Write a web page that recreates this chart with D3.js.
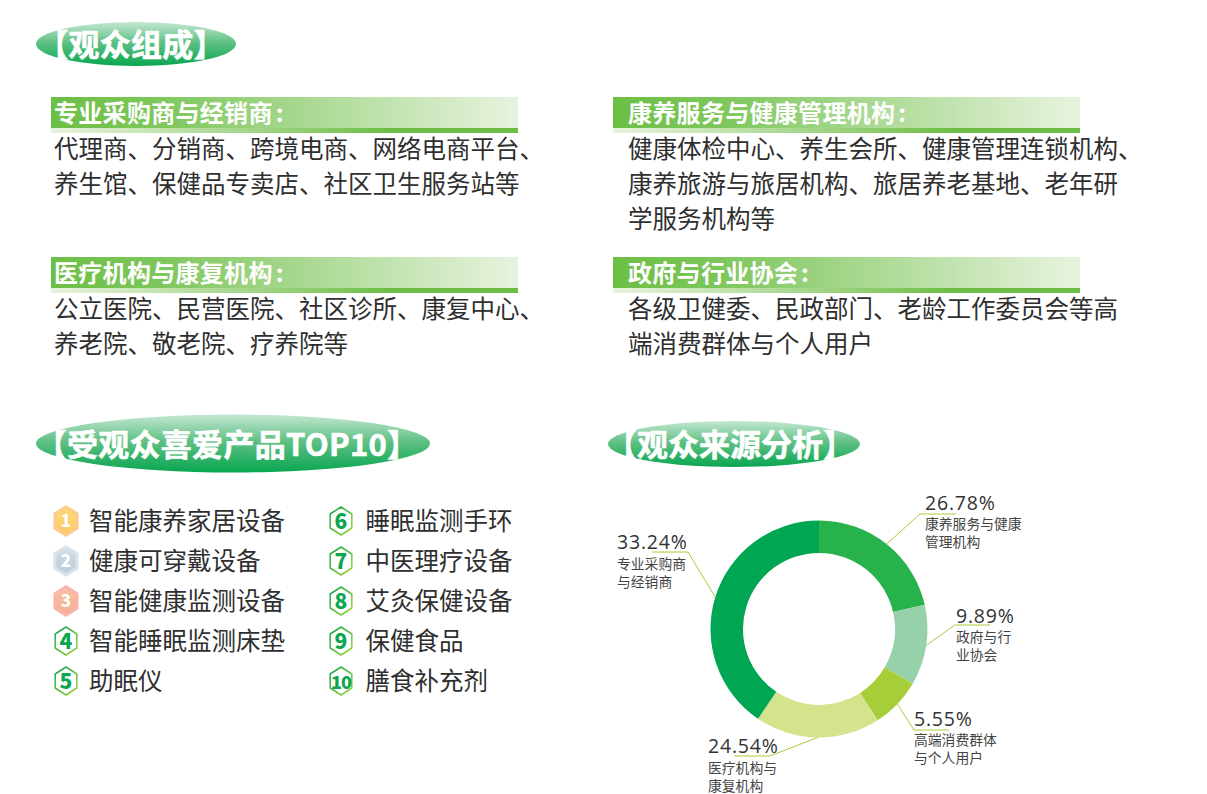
<!DOCTYPE html>
<html>
<head>
<meta charset="utf-8">
<script src="https://cdn.jsdelivr.net/npm/d3@7"></script>
<style>
    html, body { margin: 0; padding: 0; background: #fff; }
    svg { display: block; }
    text { font-family: "Noto Sans CJK SC", "Noto Sans", sans-serif; }
</style>
</head>
<body>
<div id="chart"></div>
<script>
// Audience group sections
var groupTitles = ["专业采购商与经销商", "康养服务与健康管理机构", "医疗机构与康复机构", "政府与行业协会"];
var groupLines = [
    ["代理商、分销商、跨境电商、网络电商平台、", "养生馆、保健品专卖店、社区卫生服务站等"],
    ["健康体检中心、养生会所、健康管理连锁机构、", "康养旅游与旅居机构、旅居养老基地、老年研", "学服务机构等"],
    ["公立医院、民营医院、社区诊所、康复中心、", "养老院、敬老院、疗养院等"],
    ["各级卫健委、民政部门、老龄工作委员会等高", "端消费群体与个人用户"]
];

// Top 10 products
var productNames = ["智能康养家居设备", "健康可穿戴设备", "智能健康监测设备", "智能睡眠监测床垫", "助眠仪",
                    "睡眠监测手环", "中医理疗设备", "艾灸保健设备", "保健食品", "膳食补充剂"];

// Audience source donut. The printed labels and the drawn arcs disagree in the
// reference, so the arc sizes are read from the picture separately.
var sourcePercents = ["26.78%", "9.89%", "5.55%", "24.54%", "33.24%"];
var sourceArcShares = [21.4, 12.0, 7.5, 18.6, 40.5];
var sourceNames = [["康养服务与健康", "管理机构"], ["政府与行", "业协会"], ["高端消费群体", "与个人用户"], ["医疗机构与", "康复机构"], ["专业采购商", "与经销商"]];
var sourceColors = ["#28b24b", "#97d1a9", "#a6ce39", "#d3e48c", "#00a651"];

var svg = d3.select("#chart").append("svg").attr("width", 1207).attr("height", 794);
var defs = svg.append("defs");

function addGradient(id, x2, y2, stops) {
    var g = defs.append("linearGradient").attr("id", id)
        .attr("x1", 0).attr("y1", 0).attr("x2", x2).attr("y2", y2);
    stops.forEach(function(s) {
        g.append("stop").attr("offset", s[0]).attr("stop-color", s[1]);
    });
}
addGradient("pillFill", 0, 1, [[0, "#c4e8d2"], [0.45, "#62c186"], [1, "#08a650"]]);
addGradient("barFill", 1, 0, [[0, "#6cbf45"], [0.22, "#7cc65a"], [1, "#e8f3df"]]);
addGradient("lineFill", 1, 0, [[0, "#e8f3df"], [0.55, "#8fcc6e"], [0.72, "#6cbf45"], [1, "#6cbf45"]]);
addGradient("hexStroke", 1, 1, [[0, "#0aa650"], [1, "#a6d13a"]]);
addGradient("medal1", 0, 1, [[0, "#fbdc78"], [1, "#fbc765"]]);
addGradient("medal2", 0, 1, [[0, "#d3dde5"], [1, "#bccbd8"]]);
addGradient("medal3", 0, 1, [[0, "#f8c3a2"], [1, "#f5ac90"]]);

// Green pill section titles
var pills = [
    { text: "【观众组成】", cx: 136, cy: 44, rx: 100, ry: 22, size: 31, spacing: 0.2, dx: -5 },
    { text: "【受观众喜爱产品TOP10】", cx: 233, cy: 443.5, rx: 197, ry: 29, size: 31, spacing: 0.3, dx: -6 },
    { text: "【观众来源分析】", cx: 734, cy: 444, rx: 126, ry: 23, size: 31, spacing: 0, dx: -4 }
];
var pill = svg.selectAll(".pill").data(pills).enter().append("g").attr("class", "pill");
pill.append("ellipse")
    .attr("cx", function(d) { return d.cx; })
    .attr("cy", function(d) { return d.cy; })
    .attr("rx", function(d) { return d.rx; })
    .attr("ry", function(d) { return d.ry; })
    .attr("fill", "url(#pillFill)");
pill.append("text")
    .attr("x", function(d) { return d.cx + d.dx; })
    .attr("y", function(d) { return d.cy + 12; })
    .attr("text-anchor", "middle")
    .attr("font-size", function(d) { return d.size; })
    .attr("letter-spacing", function(d) { return d.spacing; })
    .attr("font-weight", 700)
    .attr("fill", "#fff")
    .attr("stroke", "#fff")
    .attr("stroke-width", 0.6)
    .text(function(d) { return d.text; });

// Section bars with their descriptions
var columnX = d3.scaleOrdinal().domain([0, 1]).range([51, 613]);
var textX = d3.scaleOrdinal().domain([0, 1]).range([54, 628]);
var rowY = d3.scaleOrdinal().domain([0, 1]).range([97, 257]);

var group = svg.selectAll(".group").data(groupTitles).enter().append("g").attr("class", "group");
group.append("rect")
    .attr("x", function(d, i) { return columnX(i % 2); })
    .attr("y", function(d, i) { return rowY(Math.floor(i / 2)); })
    .attr("width", 467).attr("height", 31)
    .attr("fill", "url(#barFill)");
group.append("rect")
    .attr("x", function(d, i) { return columnX(i % 2); })
    .attr("y", function(d, i) { return rowY(Math.floor(i / 2)) + 31; })
    .attr("width", 467).attr("height", 5)
    .attr("fill", "url(#lineFill)");
var groupHead = group.append("text")
    .attr("x", function(d, i) { return textX(i % 2); })
    .attr("y", function(d, i) { return rowY(Math.floor(i / 2)) + 24.5; })
    .attr("font-size", 24)
    .attr("letter-spacing", 0.3)
    .attr("font-weight", 700)
    .attr("fill", "#fff");
groupHead.append("tspan").text(function(d) { return d; });
groupHead.append("tspan").attr("dx", 3).text(":");
group.each(function(d, i) {
    d3.select(this).selectAll(".line").data(groupLines[i]).enter().append("text")
        .attr("class", "line")
        .attr("x", textX(i % 2))
        .attr("y", function(l, j) { return rowY(Math.floor(i / 2)) + 60.5 + j * 35; })
        .attr("font-size", 24.5)
        .attr("fill", "#2f2f2f")
        .text(function(l) { return l; });
});

// Top 10 list, five rows in two columns
var listY = d3.scaleLinear().domain([0, 4]).range([521, 681]);
var iconX = d3.scaleOrdinal().domain([0, 1]).range([66, 341]);
var nameX = d3.scaleOrdinal().domain([0, 1]).range([89, 365.5]);
var medals = [
    { fill: "url(#medal1)", stroke: "#fbcb8c" },
    { fill: "url(#medal2)", stroke: "#dbe3ea" },
    { fill: "url(#medal3)", stroke: "#f9b4ac" }
];
var hexPath = d3.range(6).map(function(k) {
    var a = Math.PI / 3 * k;
    return [12.5 * Math.sin(a), -14 * Math.cos(a)];
});
var product = svg.selectAll(".product").data(productNames).enter().append("g")
    .attr("class", "product")
    .attr("transform", function(d, i) {
        return "translate(" + iconX(Math.floor(i / 5)) + "," + listY(i % 5) + ")";
    });
product.append("path")
    .attr("d", "M" + hexPath.join("L") + "Z")
    .attr("transform", function(d, i) { return i < 3 ? "scale(1.02)" : null; })
    .attr("fill", function(d, i) { return i < 3 ? medals[i].fill : "#fff"; })
    .attr("stroke", function(d, i) { return i < 3 ? medals[i].stroke : "url(#hexStroke)"; })
    .attr("stroke-width", function(d, i) { return i < 3 ? 3 : 1.5; })
    .attr("stroke-linejoin", "round");
product.append("text")
    .attr("text-anchor", "middle")
    .attr("y", function(d, i) { return i < 3 ? 6 : 7.5; })
    .attr("font-size", function(d, i) { return i === 9 ? 18 : (i < 3 ? 17 : 21); })
    .attr("letter-spacing", function(d, i) { return i === 9 ? -1 : 0; })
    .attr("font-weight", 900)
    .attr("fill", function(d, i) { return i < 3 ? "#fff" : "#0aa650"; })
    .text(function(d, i) { return i + 1; });
product.append("text")
    .attr("x", function(d, i) { return nameX(Math.floor(i / 5)) - iconX(Math.floor(i / 5)); })
    .attr("y", 8.5)
    .attr("font-size", 24.5)
    .attr("fill", "#2f2f2f")
    .text(function(d) { return d; });

// Donut
var cx = 819, cy = 629, outer = 108.5, inner = 76;
var pie = d3.pie().sort(null);
var arc = d3.arc().innerRadius(inner).outerRadius(outer);
var slices = pie(sourceArcShares);
var donut = svg.append("g").attr("transform", "translate(" + cx + "," + cy + ")");
donut.selectAll("path").data(slices).enter().append("path")
    .attr("d", arc)
    .attr("fill", function(d, i) { return sourceColors[i]; });

// Label placement around the ring: elbow, far end of the underline, text origin
var labelSpots = [
    { elbow: [920, 514], end: [956, 514], textX: 925, textY: 510, nameY: 529 },
    { elbow: [955, 625], end: [990, 625], textX: 956, textY: 623, nameY: 642 },
    { elbow: [914, 730], end: [949, 730], textX: 914, textY: 726, nameY: 745 },
    { elbow: [770, 756], end: [734, 756], textX: 708, textY: 753, nameY: 773 },
    { elbow: [688, 552], end: [652, 552], textX: 617, textY: 549, nameY: 569 }
];
var leader = d3.line();
svg.selectAll(".leader").data(slices).enter().append("path")
    .attr("class", "leader")
    .attr("fill", "none")
    .attr("stroke", "#a6ce39")
    .attr("stroke-width", 1)
    .attr("d", function(d, i) {
        var mid = (d.startAngle + d.endAngle) / 2;
        var s = labelSpots[i];
        return leader([[cx + outer * Math.sin(mid), cy - outer * Math.cos(mid)], s.elbow, s.end]);
    });
svg.selectAll(".pct").data(sourcePercents).enter().append("text")
    .attr("class", "pct")
    .attr("x", function(d, i) { return labelSpots[i].textX; })
    .attr("y", function(d, i) { return labelSpots[i].textY; })
    .attr("font-size", 19.5)
    .attr("letter-spacing", 0.8)
    .attr("fill", "#333")
    .style("font-family", "'Open Sans', sans-serif")
    .text(function(d) { return d; });

// Each two-line name is one text element
svg.selectAll(".name").data(sourceNames).enter().append("text")
    .attr("class", "name")
    .attr("font-size", 13.8)
    .attr("fill", "#444")
    .each(function(lines, i) {
        d3.select(this).selectAll("tspan").data(lines).enter().append("tspan")
            .attr("x", labelSpots[i].textX)
            .attr("y", function(l, j) { return labelSpots[i].nameY + j * 17.5; })
            .text(function(l) { return l; });
    });
</script>
</body>
</html>
